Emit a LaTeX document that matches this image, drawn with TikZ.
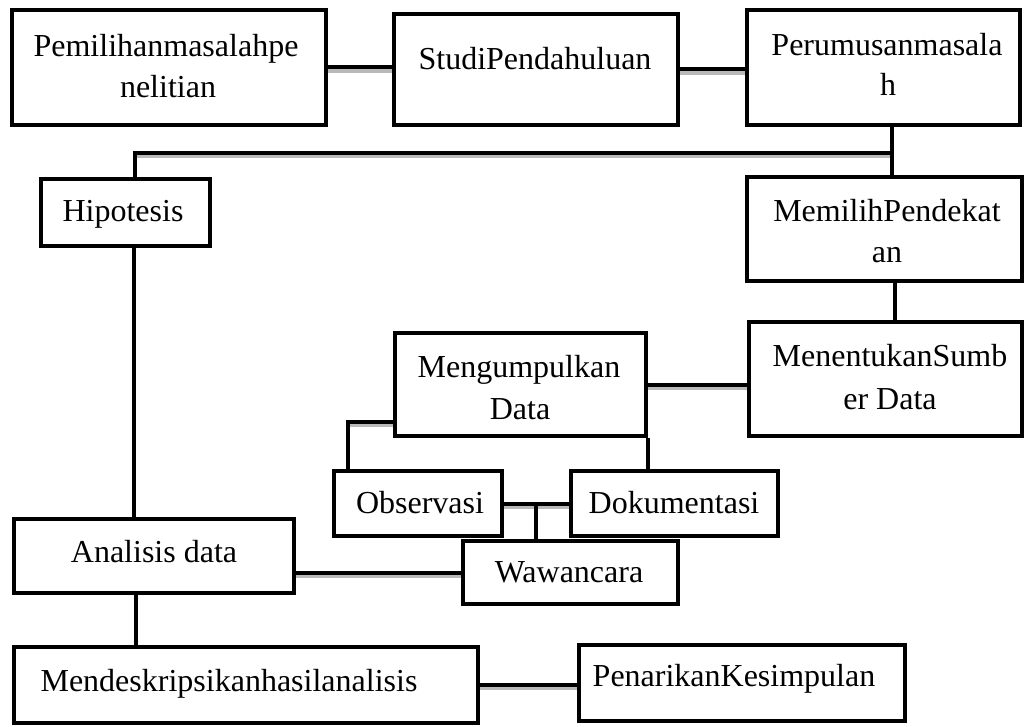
\documentclass[tikz,border=0pt]{standalone}
\usepackage{fontspec}
\setmainfont{Liberation Serif}
\begin{document}
\begin{tikzpicture}[x=1pt,y=-1pt,
  box/.style={draw=black,line width=4.5pt,rectangle,inner sep=0pt,fill=white},
  lbl/.style={anchor=base,inner sep=0pt,font=\fontsize{32}{38}\selectfont},
  conn/.style={line width=4pt,black},
  shade/.style={line width=3.5pt,gray!55}]
\useasboundingbox (0,0) rectangle (1027,727);
\fill[white] (0,0) rectangle (1027,727);
% boxes
\node[box,minimum width=314pt,minimum height=115pt] (pem) at (169,67.5) {};
\node[box,minimum width=284pt,minimum height=111pt] (studi) at (536,69.5) {};
\node[box,minimum width=273pt,minimum height=115pt] (perum) at (883.5,67.5) {};
\node[box,minimum width=169pt,minimum height=67pt] (hipo) at (125.5,212.5) {};
\node[box,minimum width=275pt,minimum height=104pt] (memilih) at (884.5,229) {};
\node[box,minimum width=273pt,minimum height=114pt] (menentu) at (885.5,379) {};
\node[box,minimum width=251pt,minimum height=103pt] (mengum) at (520.5,384.5) {};
\node[box,minimum width=168pt,minimum height=65pt] (obs) at (418,503.5) {};
\node[box,minimum width=207pt,minimum height=65pt] (doku) at (674.5,503.5) {};
\node[box,minimum width=215pt,minimum height=63pt] (wawan) at (570.5,572.5) {};
\node[box,minimum width=280pt,minimum height=74pt] (anal) at (154,556) {};
\node[box,minimum width=464pt,minimum height=76pt] (mendesk) at (246,685) {};
\node[box,minimum width=326pt,minimum height=76pt] (penarik) at (742,683) {};
% junction coordinates
\coordinate (j1) at (892,153);
\coordinate (j2) at (135,153);
\coordinate (j3) at (895,300);
\coordinate (j4) at (348,422);
\coordinate (j5) at (536,503.5);
\coordinate (j6) at (134,400);
\coordinate (j7) at (136,620);
% horizontal shading (below lines)
\begin{scope}[transform canvas={yshift=-3.5pt}]
\draw[shade] (pem.east) -- (pem.east -| studi.west);
\draw[shade] (studi.east) -- (studi.east -| perum.west);
\draw[shade] (j1) -- (j2);
\draw[shade] (mengum.east) -- (mengum.east -| menentu.west);
\draw[shade] (mengum.west |- j4) -- (j4);
\draw[shade] (obs.east) -- (obs.east -| doku.west);
\draw[shade] (anal.east |- wawan.west) -- (wawan.west);
\draw[shade] (mendesk.east) -- (mendesk.east -| penarik.west);
\end{scope}
% connectors
\draw[conn] (pem.east) -- (pem.east -| studi.west);
\draw[conn] (studi.east) -- (studi.east -| perum.west);
\draw[conn] (perum.south -| j1) -- (memilih.north -| j1);
\draw[conn] (j1) -- (j2) -- (hipo.north -| j2);
\draw[conn] (memilih.south -| j3) -- (menentu.north -| j3);
\draw[conn] (mengum.east) -- (mengum.east -| menentu.west);
\draw[conn] (mengum.west |- j4) -- (j4) -- (obs.north -| j4);
\draw[conn] (mengum.south east) -- (doku.north -| mengum.south east);
\draw[conn] (obs.east) -- (obs.east -| doku.west);
\draw[conn] (j5) -- (wawan.north -| j5);
\draw[conn] (anal.east |- wawan.west) -- (wawan.west);
\draw[conn] (hipo.south -| j6) -- (anal.north -| j6);
\draw[conn] (anal.south -| j7) -- (mendesk.north -| j7);
\draw[conn] (mendesk.east) -- (mendesk.east -| penarik.west);
% labels
\node[lbl] (pem-t1) at (166,57) {Pemilihanmasalahpe};
\node[lbl] (pem-t2) at (168,98) {nelitian};
\node[lbl] (studi-t) at (535,70) {StudiPendahuluan};
\node[lbl] (perum-t1) at (887,56) {Perumusanmasala};
\node[lbl] (perum-t2) at (888,96) {h};
\node[lbl] (hipo-t) at (123,222) {Hipotesis};
\node[lbl] (memilih-t1) at (887,222) {MemilihPendekat};
\node[lbl] (memilih-t2) at (887,262) {an};
\node[lbl] (menentu-t1) at (890,366) {MenentukanSumb};
\node[lbl] (menentu-t2) at (890,409) {er Data};
\node[lbl] (mengum-t1) at (519,377) {Mengumpulkan};
\node[lbl] (mengum-t2) at (520,419) {Data};
\node[lbl] (obs-t) at (420,513) {Observasi};
\node[lbl] (doku-t) at (674,513) {Dokumentasi};
\node[lbl] (wawan-t) at (569,582) {Wawancara};
\node[lbl] (anal-t) at (154,562) {Analisis data};
\node[lbl] (mendesk-t) at (229,691) {Mendeskripsikanhasilanalisis};
\node[lbl] (penarik-t) at (734,686) {PenarikanKesimpulan};
\end{tikzpicture}
\end{document}
